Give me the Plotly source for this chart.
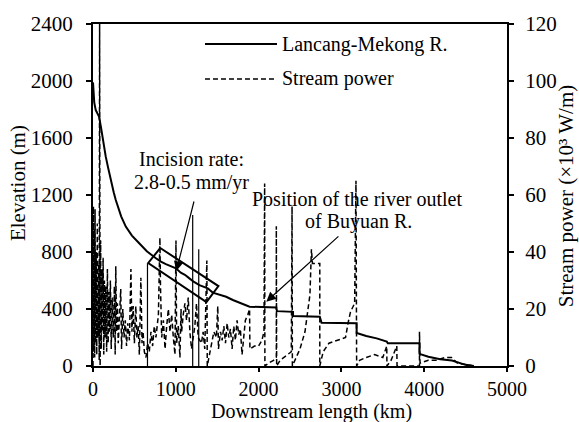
import plotly.graph_objects as go

# Elevation profile (Lancang-Mekong R.)
elev_x = [0, 15, 33, 55, 73, 95, 113, 135, 154, 185, 214, 250, 275, 300, 340, 396, 470, 558, 650, 760,
          820, 880, 940, 1002, 1060, 1110, 1164, 1220, 1285, 1340, 1386, 1446, 1520, 1608, 1689, 1780,
          1891, 2214, 2222, 2416, 2416, 2739, 2760, 3184, 3184, 3300, 3426, 3548, 3560, 3943, 3943,
          4050, 4194, 4335, 4400, 4436, 4500, 4600]
elev_y = [1990, 1850, 1796, 1775, 1750, 1680, 1609, 1530, 1469, 1385, 1305, 1220, 1165, 1120, 1050, 978, 915, 861, 805, 756,
          732, 715, 700, 686, 655, 640, 615, 590, 568, 555, 545, 515, 500, 486, 463, 440,
          416, 410, 385, 380, 350, 345, 303, 300, 232, 210, 194, 172, 160, 159, 85,
          65, 47, 38, 25, 18, 8, 0]

# Stream power (x10^3 W/m)
sp_x = [0, 5, 10, 15, 20, 25, 30, 38, 45, 52, 60, 68, 75, 80, 86, 92, 100, 108, 115, 122, 130, 138, 146, 155,
        165, 174, 183, 192, 200, 210, 220, 232, 245, 258, 268, 275, 285, 295, 305, 320, 335, 345, 360, 375,
        390, 405, 420, 440, 458, 470, 485, 500, 517, 530, 545, 560, 578, 592, 605, 620, 640, 660, 680, 700,
        720, 740, 760, 790, 808, 815, 830, 850, 870, 890, 910, 930, 950, 970, 990, 1002, 1010, 1030, 1050,
        1063, 1070, 1090, 1110, 1130, 1150, 1170, 1190, 1230, 1250, 1270, 1310, 1330, 1350, 1375, 1380,
        1400, 1430, 1460, 1490, 1507, 1515, 1540, 1560, 1580, 1600, 1620, 1640, 1660, 1680, 1700, 1720,
        1740, 1760, 1780, 1800, 1840, 1870, 1891, 1895, 1950, 2000, 2040, 2065, 2073, 2076, 2120, 2180,
        2214, 2214, 2218, 2260, 2300, 2350, 2395, 2404, 2408, 2450, 2500, 2560, 2600, 2620, 2638, 2650,
        2720, 2739, 2739, 2780, 2850, 2950, 3050, 3080, 3110, 3160, 3176, 3184, 3220, 3300, 3400, 3500,
        3548, 3550, 3600, 3669, 3672, 3800, 3943, 3943, 3950, 4050, 4150, 4250, 4330, 4400, 4600]
sp_y = [0, 56, 5, 48, 3, 55, 8, 40, 4, 50, 10, 36, 2, 120, 0, 44, 6, 34, 12, 38, 4, 30, 10, 28,
        5, 34, 8, 26, 12, 30, 6, 24, 10, 28, 4, 35, 12, 22, 8, 18, 27, 6, 20, 10,
        16, 7, 15, 9, 34, 12, 21, 8, 21, 10, 14, 4, 31, 8, 12, 5, 3, 8, 5, 12,
        7, 14, 10, 18, 45, 28, 10, 16, 6, 14, 20, 12, 18, 10, 4, 44, 8, 14, 3,
        20, 12, 18, 22, 16, 24, 12, 6, 14, 22, 10, 8, 12, 6, 37, 0,
        3, 8, 12, 10, 21, 6, 12, 9, 14, 8, 15, 10, 13, 6, 14, 9,
        16, 11, 13, 4, 16, 18, 20, 6, 7, 7, 9, 12, 64, 0, 1, 2,
        3, 49, 0, 2, 3, 4, 5, 56, 0, 3, 6, 12, 20, 25, 41, 36,
        36, 36, 0, 5, 8, 9, 10, 15, 19, 22, 65, 0, 2, 3, 4, 3,
        7, 0, 2, 7, 0, 0, 0, 12, 1, 2, 2, 3, 3, 1, 0]

# Thin solid spikes of stream power
spike_x = [658, 1204, 1277]
spike_top = [36, 53, 41]

# Axis titles
x_title = "Downstream length (km)"
y_title = "Elevation (m)"
y2_title = "Stream power (×10³ W/m)"

FONT = "Times New Roman, Liberation Serif, DejaVu Serif, serif"


def f(size=20):
    return dict(family=FONT, size=size, color="black")


fig = go.Figure()
fig.add_trace(go.Scatter(x=sp_x, y=sp_y, mode="lines", yaxis="y2", name="Stream power",
                         line=dict(color="black", width=1.5, dash="5px,3px"), showlegend=False))
sx, sy = [], []
for xv, tv in zip(spike_x, spike_top):
    sx += [xv, xv, None]
    sy += [0, tv, None]
fig.add_trace(go.Scatter(x=sx, y=sy, mode="lines", yaxis="y2", showlegend=False,
                         line=dict(color="black", width=1.2)))
fig.add_trace(go.Scatter(x=elev_x, y=elev_y, mode="lines", name="Lancang-Mekong R.",
                         line=dict(color="black", width=2), showlegend=False))

# incision box (rotated rectangle) in data coords
box = [(812, 828), (1515, 561), (1370, 449), (667, 723)]
path = "M " + " L ".join(f"{a},{b}" for a, b in box) + " Z"
fig.add_shape(type="path", path=path, xref="x", yref="y", line=dict(color="black", width=2))

# legend (manual)
fig.add_shape(type="line", xref="paper", yref="paper", x0=0.2705, x1=0.4444, y0=0.9415, y1=0.9415,
              line=dict(color="black", width=2))
fig.add_shape(type="line", xref="paper", yref="paper", x0=0.2705, x1=0.4444, y0=0.8392, y1=0.8392,
              line=dict(color="black", width=1.3, dash="5px,3px"))
fig.add_annotation(xref="paper", yref="paper", x=0.4517, y=0.9415, text="Lancang-Mekong R.",
                   showarrow=False, xanchor="left", yanchor="middle", font=f())
fig.add_annotation(xref="paper", yref="paper", x=0.4517, y=0.8392, text="Stream power",
                   showarrow=False, xanchor="left", yanchor="middle", font=f())

# text annotations
fig.add_annotation(x=1188, y=1450, text="Incision rate:", showarrow=False, font=f())
fig.add_annotation(x=1188, y=1288, text="2.8-0.5 mm/yr", showarrow=False, font=f())
fig.add_annotation(x=3188, y=1175, text="Position of the river outlet", showarrow=False, font=f())
fig.add_annotation(x=3210, y=1012, text="of Buyuan R.", showarrow=False, font=f())

# arrows
fig.add_annotation(x=1006, y=667, ax=1224, ay=1165, xref="x", yref="y", axref="x", ayref="y",
                   showarrow=True, arrowhead=2, arrowsize=1.6, arrowwidth=1.2, arrowcolor="black", text="")
fig.add_annotation(x=2093, y=451, ax=2982, ay=919, xref="x", yref="y", axref="x", ayref="y",
                   showarrow=True, arrowhead=2, arrowsize=1.6, arrowwidth=1.2, arrowcolor="black", text="")

# axis titles as paper annotations
fig.add_annotation(xref="paper", yref="paper", x=0.528, y=-0.133, text=x_title, showarrow=False,
                   xanchor="center", yanchor="middle", font=f(20))
fig.add_annotation(xref="paper", yref="paper", x=-0.181, y=0.535, text=y_title, showarrow=False,
                   textangle=-90, xanchor="center", yanchor="middle", font=f(21))
fig.add_annotation(xref="paper", yref="paper", x=1.143, y=0.497, text=y2_title, showarrow=False,
                   textangle=-90, xanchor="center", yanchor="middle", font=f(21))

axis_common = dict(showgrid=False, zeroline=False, showline=True, linecolor="black", linewidth=2,
                   ticks="outside", tickwidth=2, tickcolor="black", automargin=False)

fig.update_layout(
    width=579, height=422,
    margin=dict(l=93, r=72, t=24, b=56),
    paper_bgcolor="white", plot_bgcolor="white",
    font=f(),
    xaxis=dict(range=[0, 5000], tick0=0, dtick=1000, mirror=True, ticklen=4, tickfont=f(20), **axis_common),
    yaxis=dict(range=[0, 2400], tick0=0, dtick=400, ticklen=5, tickfont=f(21), ticklabelstandoff=9,
               **axis_common),
    yaxis2=dict(range=[0, 120], tick0=0, dtick=20, overlaying="y", side="right", ticklen=5, tickfont=f(21),
                ticklabelstandoff=7, **axis_common),
    showlegend=False,
)

fig.write_html("out.html")
